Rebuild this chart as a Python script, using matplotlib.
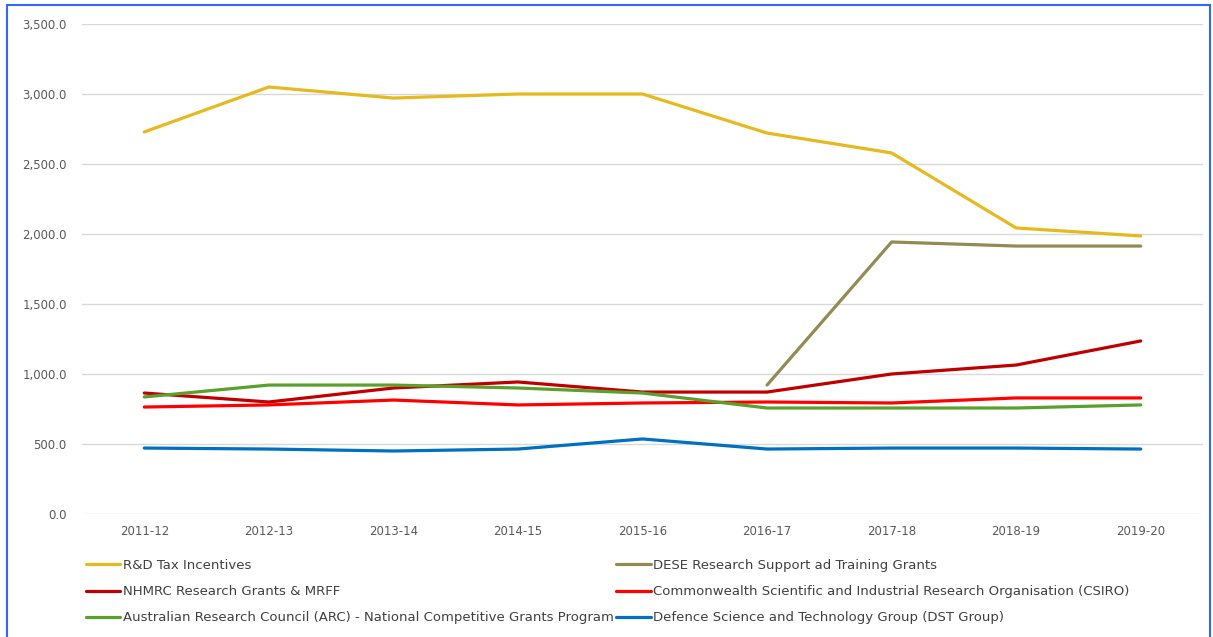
import matplotlib
matplotlib.use("Agg")
import matplotlib.pyplot as plt
from matplotlib.patches import Rectangle
from matplotlib.ticker import FuncFormatter

years = ["2011-12", "2012-13", "2013-14", "2014-15", "2015-16",
         "2016-17", "2017-18", "2018-19", "2019-20"]

rd_tax = [2729, 3050, 2971, 3000, 3000, 2721, 2579, 2043, 1986]
dese = [None, None, None, None, None, 921, 1943, 1914, 1914]
nhmrc = [864, 800, 900, 943, 871, 871, 1000, 1064, 1236]
csiro = [764, 779, 814, 779, 793, 800, 793, 829, 829]
arc = [836, 921, 921, 900, 864, 757, 757, 757, 779]
dst = [471, 464, 450, 464, 536, 464, 471, 471, 464]

names = ["R&D Tax Incentives",
         "DESE Research Support ad Training Grants",
         "NHMRC Research Grants & MRFF",
         "Commonwealth Scientific and Industrial Research Organisation (CSIRO)",
         "Australian Research Council (ARC) - National Competitive Grants Program",
         "Defence Science and Technology Group (DST Group)"]
colors = ["#E6B91E", "#948A54", "#C00000", "#FF0000", "#59A02C", "#0070C0"]

fig = plt.figure(figsize=(12.13, 6.37), dpi=100)
ax = fig.add_axes([82 / 1213, 123 / 637, 1121 / 1213, 490 / 637])

x = list(range(len(years)))
lines = []
for vals, name, c in zip([rd_tax, dese, nhmrc, csiro, arc, dst], names, colors):
    xs = [i for i, v in zip(x, vals) if v is not None]
    ys = [v for v in vals if v is not None]
    ln, = ax.plot(xs, ys, color=c, lw=2.3, label=name, solid_capstyle="round")
    lines.append(ln)

ax.set_xlim(-0.5, 8.5)
ax.set_ylim(0, 3500)
ax.set_yticks(range(0, 3501, 500))
ax.yaxis.set_major_formatter(FuncFormatter(lambda v, p: "{:,.1f}".format(v)))
ax.set_xticks(x)
ax.set_xticklabels(years)
ax.grid(axis="y", color="#d9d9d9", lw=1)
ax.set_axisbelow(True)
for s in ax.spines.values():
    s.set_visible(False)
ax.tick_params(length=0, labelsize=8.5, colors="#595959", pad=8)
ax.tick_params(axis="y", pad=11)

# legend in row order
order = [0, 2, 4, 1, 3, 5]
fig.legend([lines[i] for i in order], [names[i] for i in order],
           loc="upper left", bbox_to_anchor=(86 / 1213, 1 - 559 / 637),
           ncol=2, frameon=False, fontsize=9.5, labelcolor="#404040",
           handlelength=2.6, handletextpad=0.2, columnspacing=0.2,
           labelspacing=1.0, borderaxespad=0, borderpad=0)

# blue frame around the chart
fig.patches.append(Rectangle((7 / 1213, -0.05), 1203 / 1213, 1 - 5 / 637 + 0.05,
                             transform=fig.transFigure, fill=False,
                             edgecolor="#3366FF", lw=1.5))

fig.savefig("out.png", dpi=100)
